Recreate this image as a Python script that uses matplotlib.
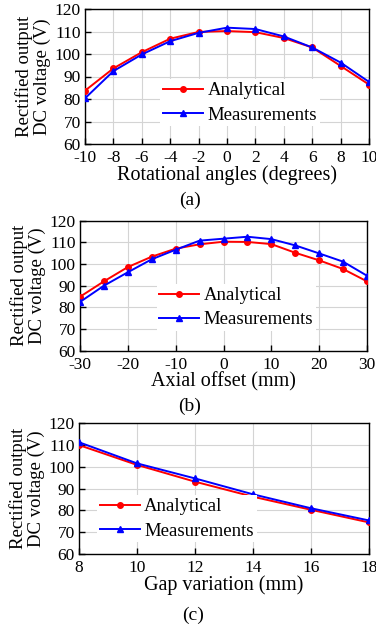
import matplotlib
matplotlib.use("Agg")
import matplotlib.pyplot as plt

plt.rcParams['font.family'] = ['Liberation Serif', 'DejaVu Serif']
plt.rcParams['axes.unicode_minus'] = False

# Panel (a)
angles = [-10, -8, -6, -4, -2, 0, 2, 4, 6, 8, 10]
a_analytical = [83.7, 93.6, 100.8, 106.8, 109.8, 110.2, 109.7, 107.1, 102.9, 94.7, 86.4]
a_measured = [80.3, 92.4, 99.8, 105.7, 109.4, 111.7, 111.1, 107.8, 102.9, 96.2, 87.6]

# Panel (b)
offsets = [-30, -25, -20, -15, -10, -5, 0, 5, 10, 15, 20, 25, 30]
b_analytical = [84.9, 92.0, 98.6, 103.4, 107.1, 109.1, 110.3, 110.2, 109.2, 105.2, 101.7, 97.7, 92.0]
b_measured = [82.5, 90.0, 96.2, 102.2, 106.6, 110.8, 111.7, 112.6, 111.5, 108.6, 104.9, 101.1, 94.6]

# Panel (c)
gaps = [8, 10, 12, 14, 16, 18]
c_analytical = [110.0, 100.9, 93.2, 86.3, 80.3, 74.5]
c_measured = [111.3, 101.6, 94.7, 87.4, 81.0, 75.4]

yticks = [60, 70, 80, 90, 100, 110, 120]
series_names = ["Analytical", "Measurements"]

W, H = 376, 626
fig = plt.figure(figsize=(W / 100, H / 100), dpi=100)

TICK_FS = 12.5
XLAB_FS = 14.5
YLAB_FS = 13.5
LEG_FS = 13.5
SUB_FS = 14

def px_axes(left, top, right, bottom):
    return fig.add_axes([left / W, 1 - bottom / H, (right - left) / W, (bottom - top) / H])

panels = [
    dict(box=(85, 9, 369, 144), x=angles, ya=a_analytical, ym=a_measured,
         xticks=list(range(-10, 11, 2)), xlim=(-10, 10),
         xlabel="Rotational angles (degrees)", leg=(0.546, 0.305),
         sub="(a)", subpos=(190, 200)),
    dict(box=(80, 220.7, 367, 350.7), x=offsets, ya=b_analytical, ym=b_measured,
         xticks=list(range(-30, 31, 10)), xlim=(-30, 30),
         xlabel="Axial offset (mm)", leg=(0.544, 0.33),
         sub="(b)", subpos=(190, 406)),
    dict(box=(79, 423.3, 369, 554), x=gaps, ya=c_analytical, ym=c_measured,
         xticks=list(range(8, 19, 2)), xlim=(8, 18),
         xlabel="Gap variation (mm)", leg=(0.338, 0.268),
         sub="(c)", subpos=(193, 615)),
]

for p in panels:
    ax = px_axes(*p["box"])
    ax.plot(p["x"], p["ya"], color="#ff0000", lw=1.4, marker="o", ms=4,
            label=series_names[0], zorder=3)
    ax.plot(p["x"], p["ym"], color="#0000ff", lw=1.4, marker="^", ms=4,
            label=series_names[1], zorder=3)
    ax.set_xlim(*p["xlim"])
    ax.set_ylim(60, 120)
    ax.set_xticks(p["xticks"])
    ax.set_yticks(yticks)
    ax.grid(True, color="#d4d4d4", lw=0.8)
    ax.set_axisbelow(True)
    for s in ax.spines.values():
        s.set_color("black")
        s.set_linewidth(1.0)
    ax.tick_params(direction="in", length=4.5, width=1.0, pad=3,
                   labelsize=TICK_FS)
    ax.tick_params(axis="x", pad=4.5)
    ax.set_xlabel(p["xlabel"], labelpad=-0.5, fontsize=XLAB_FS)
    ax.set_ylabel("Rectified output\nDC voltage (V)", labelpad=3,
                  fontsize=YLAB_FS, linespacing=1.05)
    leg = ax.legend(loc="center", bbox_to_anchor=p["leg"], frameon=True,
                    facecolor="white", edgecolor="none", framealpha=1,
                    handlelength=2.1, handletextpad=0.25, labelspacing=0.38,
                    borderpad=0.15, fontsize=LEG_FS, fancybox=False)
    leg.set_zorder(5)
    fig.text(p["subpos"][0] / W, 1 - p["subpos"][1] / H, p["sub"],
             ha="center", va="center", fontsize=SUB_FS)

fig.savefig("out.png", dpi=100)
